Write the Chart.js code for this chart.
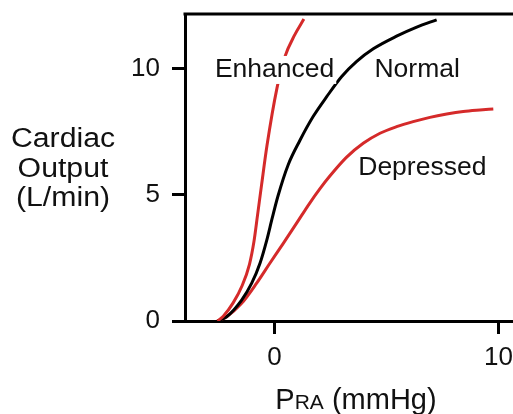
<!DOCTYPE html>
<html>
<head>
<meta charset="utf-8">
<script src="https://cdn.jsdelivr.net/npm/chart.js@4/dist/chart.umd.min.js"></script>
<style>
  html, body { margin: 0; padding: 0; background: #fff; }
</style>
</head>
<body>
<canvas id="myChart" width="513" height="414"></canvas>
<script>
// Cardiac function curves: output vs right atrial pressure
var enhancedX = [-2.55, -2.3, -1.85, -1.45, -1.12, -0.92, -0.76, -0.58, -0.34, 0.11, 0.46, 0.9, 1.31];
var enhancedY = [0, 0.18, 0.72, 1.4, 2.25, 3.15, 4.2, 5.4, 6.95, 9.25, 10.48, 11.35, 11.98];

var normalX = [-2.55, -2.14, -1.47, -1.02, -0.65, -0.35, -0.1, 0.15, 0.61, 1.13, 1.73, 2.33, 3.0, 3.67, 4.41, 5.45, 6.35, 7.24];
var normalY = [0, 0.17, 0.83, 1.5, 2.29, 3.2, 4.1, 4.95, 6.2, 7.16, 8.12, 8.9, 9.7, 10.3, 10.8, 11.3, 11.66, 11.95];

var depressedX = [-2.55, -2.14, -1.47, -0.8, -0.21, 0.39, 1.0, 1.55, 2.03, 2.47, 3.22, 3.96, 4.71, 5.45, 6.19, 6.94, 7.69, 8.43, 9.17, 9.77];
var depressedY = [0, 0.17, 0.7, 1.5, 2.29, 3.08, 3.9, 4.65, 5.25, 5.75, 6.5, 7.05, 7.45, 7.71, 7.91, 8.08, 8.21, 8.31, 8.37, 8.41];

var xTicks = [0, 10];
var yTicks = [0, 5, 10];

var curveNames = ["Enhanced", "Normal", "Depressed"];
var yTitleLines = ["Cardiac", "Output", "(L/min)"];

var RED = "#d52a2a";
var FONT = "'Liberation Sans', Arial, sans-serif";

function toPoints(xs, ys) {
  var pts = [];
  for (var i = 0; i < xs.length; i++) {
    pts.push({ x: xs[i], y: ys[i] });
  }
  return pts;
}

// where the curve names sit (data coords)
var nameSpots = [
  { x: 0.0, y: 9.96, box: true },
  { x: 6.37, y: 9.96, box: false },
  { x: 6.6, y: 6.07, box: false }
];

var textPlugin = {
  id: 'textPlugin',
  afterDatasetsDraw: function(chart) {
    var ctx = chart.ctx;
    var xs = chart.scales.x;
    var ys = chart.scales.y;
    var area = chart.chartArea;
    ctx.save();

    // top frame line
    ctx.strokeStyle = "#000";
    ctx.lineWidth = 3;
    ctx.beginPath();
    ctx.moveTo(area.left - 1.5, area.top);
    ctx.lineTo(area.right, area.top);
    ctx.stroke();

    // curve names
    ctx.font = "26.5px " + FONT;
    ctx.textAlign = "center";
    ctx.textBaseline = "middle";
    for (var i = 0; i < curveNames.length; i++) {
      var px = xs.getPixelForValue(nameSpots[i].x);
      var py = ys.getPixelForValue(nameSpots[i].y);
      if (nameSpots[i].box) {
        var w = ctx.measureText(curveNames[i]).width;
        ctx.fillStyle = "#fff";
        ctx.fillRect(px - w / 2 - 2, py - 14, w + 4, 28);
      }
      ctx.fillStyle = "#111";
      ctx.fillText(curveNames[i], px, py);
    }

    // y title, horizontal lines, a little wide
    ctx.font = "27px " + FONT;
    ctx.textBaseline = "alphabetic";
    var baselines = [147, 176.5, 206];
    for (var j = 0; j < yTitleLines.length; j++) {
      ctx.save();
      ctx.translate(63, baselines[j]);
      ctx.scale(1.12, 1);
      ctx.fillText(yTitleLines[j], 0, 0);
      ctx.restore();
    }

    // x title with small caps subscript
    ctx.textAlign = "left";
    var parts = [["P", 29], ["RA", 21], [" (mmHg)", 29]];
    var total = 0;
    parts.forEach(function(p) {
      ctx.font = p[1] + "px " + FONT;
      total += ctx.measureText(p[0]).width;
    });
    var tx = 356 - total / 2;
    parts.forEach(function(p) {
      ctx.font = p[1] + "px " + FONT;
      ctx.fillText(p[0], tx, 409);
      tx += ctx.measureText(p[0]).width;
    });
    ctx.restore();
  }
};

var lineStyle = {
  borderWidth: 3,
  pointRadius: 0,
  cubicInterpolationMode: 'monotone',
  fill: false
};

var chart = new Chart(document.getElementById("myChart"), {
  type: 'line',
  data: {
    datasets: [
      Object.assign({ label: curveNames[0], data: toPoints(enhancedX, enhancedY), borderColor: RED }, lineStyle),
      Object.assign({ label: curveNames[1], data: toPoints(normalX, normalY), borderColor: "#000" }, lineStyle),
      Object.assign({ label: curveNames[2], data: toPoints(depressedX, depressedY), borderColor: RED }, lineStyle)
    ]
  },
  options: {
    responsive: false,
    animation: false,
    devicePixelRatio: 1,
    layout: { padding: { top: 14, right: 0, left: 0, bottom: 0 } },
    plugins: {
      legend: { display: false },
      tooltip: { enabled: false },
      title: { display: false }
    },
    scales: {
      x: {
        type: 'linear',
        min: -4,
        max: 10.65,
        afterBuildTicks: function(scale) {
          scale.ticks = xTicks.map(function(v) { return { value: v }; });
        },
        afterFit: function(scale) {
          scale.height = 93;
          scale.paddingLeft = 0;
          scale.paddingRight = 0;
        },
        grid: { drawOnChartArea: false, drawTicks: true, tickLength: 13, color: "#000", lineWidth: 3 },
        border: { display: true, color: "#000", width: 3 },
        ticks: { color: "#111", font: { family: FONT, size: 26 }, padding: 8, maxRotation: 0 }
      },
      y: {
        type: 'linear',
        min: 0,
        max: 12.18,
        afterBuildTicks: function(scale) {
          scale.ticks = yTicks.map(function(v) { return { value: v }; });
        },
        afterFit: function(scale) {
          scale.width = 185;
          scale.paddingTop = 0;
          scale.paddingBottom = 0;
        },
        grid: { drawOnChartArea: false, drawTicks: true, tickLength: 13, color: "#000", lineWidth: 3 },
        border: { display: true, color: "#000", width: 3 },
        ticks: { color: "#111", font: { family: FONT, size: 26 }, padding: 12 }
      }
    }
  },
  plugins: [textPlugin]
});
</script>
</body>
</html>
